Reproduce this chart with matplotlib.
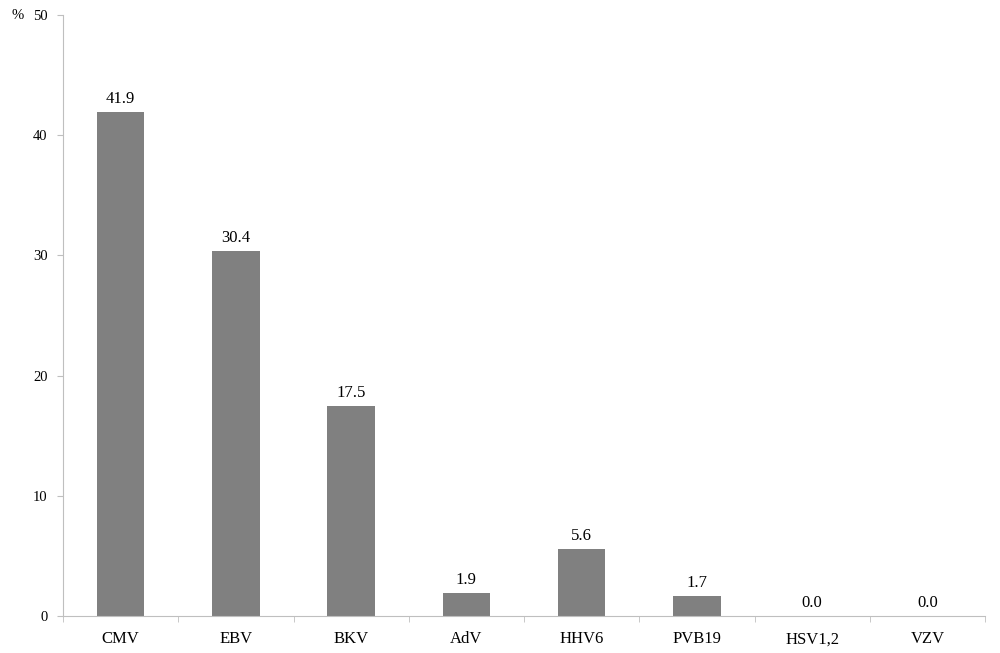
import matplotlib.pyplot as plt
import numpy as np

plt.rcParams['font.family'] = ['Liberation Serif', 'DejaVu Serif']

viruses = ['CMV', 'EBV', 'BKV', 'AdV', 'HHV6', 'PVB19', 'HSV1,2', 'VZV']
percent = [41.9, 30.4, 17.5, 1.9, 5.6, 1.7, 0.0, 0.0]
yticks = [0, 10, 20, 30, 40, 50]

axis_col = '#bfbfbf'

fig = plt.figure(figsize=(10, 6.53), dpi=100)
ax = fig.add_axes([0.063, 0.0567, 0.922, 0.9203])

x = np.arange(len(viruses))
bars = ax.bar(x, percent, width=0.41, color='#808080')

for xi, v in zip(x, percent):
    ax.text(xi, v + 0.75, f'{v:.1f}', ha='center', va='baseline', fontsize=12)

ax.set_xlim(-0.5, len(viruses) - 0.5)
ax.set_ylim(0, 50)
ax.set_yticks(yticks)
ax.tick_params(axis='y', direction='out', length=4, color=axis_col, labelsize=10.5, pad=7)

# category labels in the middle, tick marks at the boundaries
ax.set_xticks(x)
ax.set_xticklabels(viruses, fontsize=12)
ax.tick_params(axis='x', which='major', length=0, pad=11)
ax.set_xticks(np.arange(len(viruses) + 1) - 0.5, minor=True)
ax.tick_params(axis='x', which='minor', direction='out', length=4, color=axis_col)

for s in ['top', 'right']:
    ax.spines[s].set_visible(False)
for s in ['left', 'bottom']:
    ax.spines[s].set_color(axis_col)

fig.text(0.018, 0.977, '%', ha='center', va='center', fontsize=10.5)

plt.savefig('out.png', dpi=100)
